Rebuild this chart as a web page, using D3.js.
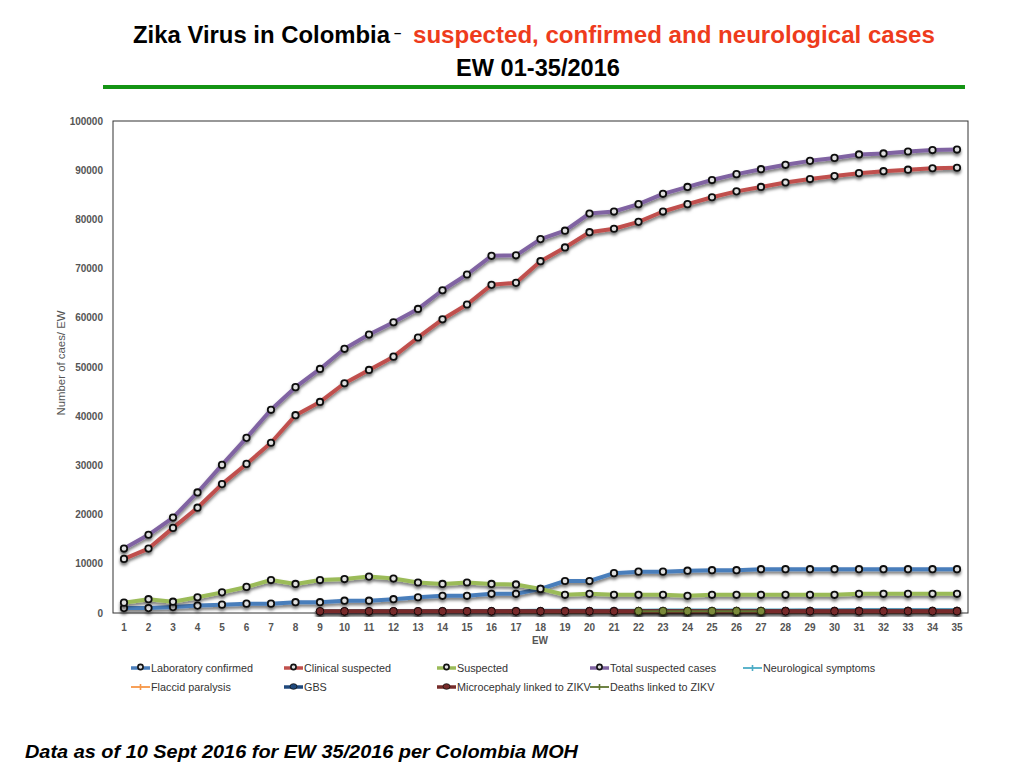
<!DOCTYPE html>
<html>
<head>
<meta charset="utf-8">
<script src="https://cdn.jsdelivr.net/npm/d3@7"></script>
<style>
  html, body { margin: 0; padding: 0; background: #fff; }
  svg { display: block; font-family: "Liberation Sans", Arial, Helvetica, sans-serif; }
  .tick-label { font-size: 10px; font-weight: bold; fill: #555; }
  .axis-title { font-size: 10px; fill: #555; }
  .legend-label { font-size: 10.8px; fill: #333; }
</style>
</head>
<body>
<div id="chart"></div>
<script>
const WEEKS = d3.range(1, 36);
const Y_TICKS = [0, 10000, 20000, 30000, 40000, 50000, 60000, 70000, 80000, 90000, 100000];

const labConfirmed = [1000, 1000, 1200, 1500, 1700, 1900, 1900, 2200, 2200, 2500, 2500, 2800, 3200, 3500, 3500, 3900, 3900, 4900, 6500, 6500, 8100, 8400, 8400, 8600, 8700, 8700, 8900, 8900, 8900, 8900, 8900, 8900, 8900, 8900, 8900];
const clinicalSuspected = [11000, 13100, 17300, 21400, 26200, 30300, 34600, 40200, 42900, 46700, 49400, 52100, 56000, 59700, 62700, 66700, 67100, 71500, 74300, 77400, 78100, 79500, 81600, 83100, 84500, 85700, 86600, 87500, 88200, 88800, 89400, 89800, 90100, 90400, 90500];
const suspected = [2100, 2800, 2300, 3200, 4200, 5300, 6700, 5900, 6700, 6900, 7400, 7000, 6200, 5900, 6200, 5900, 5800, 4900, 3700, 3900, 3700, 3700, 3700, 3500, 3700, 3700, 3700, 3700, 3700, 3700, 3900, 3900, 3900, 3900, 3900];
const totalSuspected = [13100, 15900, 19400, 24500, 30100, 35600, 41300, 45900, 49600, 53700, 56600, 59100, 61800, 65600, 68800, 72600, 72700, 76000, 77700, 81200, 81600, 83100, 85200, 86600, 88000, 89200, 90200, 91100, 91900, 92500, 93200, 93400, 93800, 94100, 94200];
const neurological = [null, null, null, null, null, null, null, null, 500, 520, 540, 560, 580, 600, 610, 620, 630, 640, 650, 660, 670, 680, 690, 700, 700, 710, 720, 720, 730, 730, 740, 740, 750, 750, 760];
const flaccidParalysis = [null, null, null, null, null, null, null, null, 300, 300, 310, 310, 320, 320, 330, 330, 330, 340, 340, 340, 350, 350, 350, 350, 360, 360, 360, 360, 360, 370, 370, 370, 370, 370, 370];
const gbs = [null, null, null, null, null, null, null, null, 320, 330, 340, 350, 360, 370, 380, 380, 390, 390, 400, 400, 410, 410, 420, 420, 420, 430, 430, 430, 440, 440, 440, 440, 450, 450, 450];
const microcephaly = [null, null, null, null, null, null, null, null, 350, 350, 350, 350, 350, 350, 350, 350, 350, 350, 350, 350, 350, 350, 350, 350, 350, 350, 350, 360, 360, 360, 360, 360, 360, 360, 360];
const deaths = [null, null, null, null, null, null, null, null, null, null, null, null, null, null, null, null, null, null, null, null, null, 380, 380, 380, 380, 380, 380, null, null, null, null, null, null, null, null];

const SERIES = [
  { name: "Laboratory confirmed", values: labConfirmed, color: "#4a7ebb", width: 4, marker: "ring" },
  { name: "Clinical suspected", values: clinicalSuspected, color: "#c0504d", width: 4, marker: "ring" },
  { name: "Suspected", values: suspected, color: "#9bbb59", width: 4, marker: "ring" },
  { name: "Total suspected cases", values: totalSuspected, color: "#8064a2", width: 4, marker: "ring" },
  { name: "Neurological symptoms", values: neurological, color: "#4bacc6", width: 2, marker: "small" },
  { name: "Flaccid paralysis", values: flaccidParalysis, color: "#f79646", width: 2, marker: "small" },
  { name: "GBS", values: gbs, color: "#1f497d", width: 4, marker: "dot" },
  { name: "Microcephaly linked to ZIKV", values: microcephaly, color: "#772c2a", width: 4, marker: "dot" },
  { name: "Deaths linked to ZIKV", values: deaths, color: "#5f7530", width: 2, marker: "olive" }
];

const WIDTH = 1024;
const HEIGHT = 768;
const PLOT = { left: 113, right: 968, top: 121, bottom: 613 };

const svg = d3.select("#chart").append("svg")
  .attr("width", WIDTH)
  .attr("height", HEIGHT)
  .attr("viewBox", `0 0 ${WIDTH} ${HEIGHT}`);

const defs = svg.append("defs");
defs.append("filter")
  .attr("id", "shadow")
  .attr("x", "-5%").attr("y", "-5%").attr("width", "110%").attr("height", "120%")
  .append("feDropShadow")
  .attr("dx", 0).attr("dy", 2.5)
  .attr("stdDeviation", 1.6)
  .attr("flood-color", "#000")
  .attr("flood-opacity", 0.55);

// scale a text's font size until it spans the given width
function fitText(sel, width) {
  const size = parseFloat(sel.attr("font-size"));
  const natural = sel.node().getComputedTextLength();
  sel.attr("font-size", (size * width / natural).toFixed(2));
  return sel;
}

// title block
const titleLeft = svg.append("text")
  .attr("x", 133).attr("y", 43)
  .attr("font-size", 24).attr("font-weight", "bold").attr("fill", "#000")
  .text("Zika Virus in Colombia");
fitText(titleLeft, 257);
titleLeft.append("tspan")
  .attr("x", 394).attr("dy", -6)
  .attr("font-size", 13)
  .text("–");

fitText(svg.append("text")
  .attr("x", 413).attr("y", 43)
  .attr("font-size", 24).attr("font-weight", "bold").attr("fill", "#ee3b1c")
  .text("suspected, confirmed and neurological cases"), 522);

fitText(svg.append("text")
  .attr("x", 456).attr("y", 76)
  .attr("font-size", 24).attr("font-weight", "bold").attr("fill", "#000")
  .text("EW 01-35/2016"), 164);

svg.append("rect")
  .attr("x", 103).attr("y", 85)
  .attr("width", 862).attr("height", 4)
  .attr("fill", "#149414");

const x = d3.scaleLinear().domain([1, 35]).range([124, 957]);
const y = d3.scaleLinear().domain([0, 100000]).range([PLOT.bottom, PLOT.top]);

// plot frame
svg.append("rect")
  .attr("x", PLOT.left).attr("y", PLOT.top)
  .attr("width", PLOT.right - PLOT.left)
  .attr("height", PLOT.bottom - PLOT.top)
  .attr("fill", "none")
  .attr("stroke", "#333")
  .attr("stroke-width", 1);

svg.append("g")
  .selectAll("text")
  .data(Y_TICKS)
  .enter()
  .append("text")
  .attr("class", "tick-label")
  .attr("x", 103)
  .attr("y", (d) => y(d) + 3.5)
  .attr("text-anchor", "end")
  .text((d) => d);

svg.append("g")
  .selectAll("text")
  .data(WEEKS)
  .enter()
  .append("text")
  .attr("class", "tick-label")
  .attr("x", (d) => x(d))
  .attr("y", 631)
  .attr("text-anchor", "middle")
  .text((d) => d);

svg.append("text")
  .attr("class", "axis-title")
  .attr("font-weight", "bold")
  .attr("x", 540).attr("y", 644)
  .attr("text-anchor", "middle")
  .text("EW");

svg.append("text")
  .attr("class", "axis-title")
  .attr("transform", "translate(65,363) rotate(-90)")
  .attr("text-anchor", "middle")
  .attr("textLength", 105).attr("lengthAdjust", "spacingAndGlyphs")
  .text("Number of caes/ EW");

const line = d3.line()
  .defined((d) => d.v !== null)
  .x((d) => x(d.w))
  .y((d) => y(d.v));

function drawMarker(g, kind, color, cx, cy) {
  if (kind === "ring") {
    g.append("circle").attr("cx", cx).attr("cy", cy).attr("r", 3.2)
      .attr("fill", "#e0e0e0").attr("stroke", "#111").attr("stroke-width", 1.8);
  } else if (kind === "dot") {
    g.append("circle").attr("cx", cx).attr("cy", cy).attr("r", 3.8)
      .attr("fill", color).attr("stroke", "#1a0a0a").attr("stroke-width", 1);
  } else if (kind === "olive") {
    g.append("circle").attr("cx", cx).attr("cy", cy).attr("r", 3.8)
      .attr("fill", "#7a8a3a").attr("stroke", "#2a3010").attr("stroke-width", 1);
  } else {
    g.append("circle").attr("cx", cx).attr("cy", cy).attr("r", 1.8)
      .attr("fill", color);
  }
}

SERIES.forEach((s) => {
  const pts = WEEKS.map((w, i) => ({ w, v: s.values[i] }));
  const g = svg.append("g").attr("filter", "url(#shadow)");
  g.append("path")
    .datum(pts)
    .attr("d", line)
    .attr("fill", "none")
    .attr("stroke", s.color)
    .attr("stroke-width", s.width)
    .attr("stroke-linejoin", "round");
  pts.filter((d) => d.v !== null).forEach((d) => {
    drawMarker(g, s.marker, s.color, x(d.w), y(d.v));
  });
});

// legend
const LEGEND_COLS = [131, 284, 437, 590, 743];
const LEGEND_ROWS = [668, 687];
SERIES.forEach((s, i) => {
  const lx = LEGEND_COLS[i % 5];
  const ly = LEGEND_ROWS[Math.floor(i / 5)];
  const g = svg.append("g");
  g.append("line")
    .attr("x1", lx).attr("x2", lx + 19)
    .attr("y1", ly).attr("y2", ly)
    .attr("stroke", s.color)
    .attr("stroke-width", s.width === 4 ? 3.5 : 1.8);
  const mk = s.marker === "ring" || s.marker === "dot" ? s.marker : "small";
  if (mk === "ring") {
    g.append("circle").attr("cx", lx + 9.5).attr("cy", ly - 1).attr("r", 2.6)
      .attr("fill", "#e0e0e0").attr("stroke", "#111").attr("stroke-width", 1.6);
  } else if (mk === "dot") {
    g.append("ellipse").attr("cx", lx + 9.5).attr("cy", ly - 0.5).attr("rx", 3.5).attr("ry", 2.8)
      .attr("fill", s.color).attr("stroke", "#111").attr("stroke-width", 0.8);
  } else {
    g.append("line").attr("x1", lx + 9.5).attr("x2", lx + 9.5)
      .attr("y1", ly - 3).attr("y2", ly + 3)
      .attr("stroke", s.color).attr("stroke-width", 1.6);
  }
  g.append("text")
    .attr("class", "legend-label")
    .attr("x", lx + 20)
    .attr("y", ly + 4)
    .text(s.name);
});

// footer note
svg.append("text")
  .attr("x", 25).attr("y", 758)
  .attr("font-size", 19)
  .attr("font-weight", "bold")
  .attr("font-style", "italic")
  .attr("fill", "#000")
  .attr("textLength", 553).attr("lengthAdjust", "spacingAndGlyphs")
  .text("Data as of 10 Sept 2016 for EW 35/2016 per Colombia MOH");
</script>
</body>
</html>
